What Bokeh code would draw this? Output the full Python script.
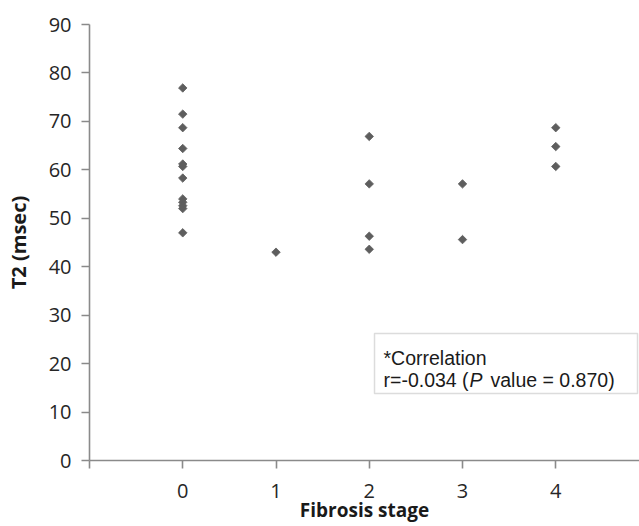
from bokeh.plotting import figure
from bokeh.models import FixedTicker, Label, BoxAnnotation, ColumnDataSource
from bokeh.embed import file_html
from bokeh.resources import INLINE
import math

# ---- data ----
stage_0 = [76.9, 71.5, 68.7, 64.4, 61.2, 60.7, 58.3, 54.0, 53.3, 52.6, 52.0, 47.0]
stage_1 = [43.0]
stage_2 = [66.9, 57.1, 46.3, 43.6]
stage_3 = [57.1, 45.6]
stage_4 = [68.7, 64.8, 60.7]
stages = [0, 1, 2, 3, 4]
y_ticks = [0, 10, 20, 30, 40, 50, 60, 70, 80, 90]
x_ticks = [-1, 0, 1, 2, 3, 4]
x_title = "Fibrosis stage"
y_title = "T2 (msec)"

xs, ys = [], []
for s, vals in zip(stages, [stage_0, stage_1, stage_2, stage_3, stage_4]):
    for v in vals:
        xs.append(s)
        ys.append(v)
src = ColumnDataSource(dict(x=xs, y=ys))

W, H = 639, 526
BL, BT, BB = 89, 24, 66
p = figure(width=W, height=H, x_range=(-1, 4.898), y_range=(0, 90),
           output_backend="svg", toolbar_location=None,
           min_border_left=BL, min_border_top=BT, min_border_bottom=BB,
           min_border_right=0)
p.outline_line_color = None
p.grid.visible = False
p.background_fill_color = "white"
p.border_fill_color = "white"

p.scatter("x", "y", source=src, marker="square", size=6, angle=math.pi / 4,
          fill_color="#5e5e5e", line_color="#5e5e5e", line_width=0.8)

TICK_FONT = "Open Sans"
for ax in (p.xaxis[0], p.yaxis[0]):
    ax.axis_line_color = "#8a8a8a"
    ax.axis_line_width = 1.6
    ax.major_tick_line_color = "#8a8a8a"
    ax.major_tick_line_width = 1.6
    ax.major_tick_out = 8
    ax.major_tick_in = 0
    ax.minor_tick_out = 0
    ax.minor_tick_in = 0
    ax.major_label_text_font = TICK_FONT
    ax.major_label_text_font_size = "20px"
    ax.major_label_text_color = "#262626"
    ax.axis_label_text_font = TICK_FONT
    ax.axis_label_text_font_style = "bold"
    ax.axis_label_text_font_size = "20px"
    ax.axis_label_text_color = "#1a1a1a"

p.xaxis.axis_label_text_font_size = "19px"
p.yaxis.ticker = FixedTicker(ticks=y_ticks)
p.xaxis.ticker = FixedTicker(ticks=x_ticks)
p.xaxis.major_label_overrides = {-1: ""}
p.yaxis.axis_label = y_title
p.xaxis.axis_label = x_title
p.yaxis.major_label_standoff = 10
p.xaxis.major_label_standoff = 15
p.yaxis.axis_label_standoff = 14
p.xaxis.axis_label_standoff = -4


# layout helpers (pixel positions of the page converted to data units)
def px_x(px):
    return -1 + (px - 89) / 93.25


def px_y(py):
    return (460 - py) / (436 / 90)


p.add_layout(BoxAnnotation(left=px_x(374), right=px_x(637), top=px_y(333), bottom=px_y(393),
                           fill_color="white", fill_alpha=1.0,
                           line_color="#8a8a8a", line_width=1.5))

LF = "Liberation Sans"
common = dict(text_font=LF, text_font_size="19.5px", text_color="#1a1a1a",
              text_baseline="alphabetic", text_align="left")
p.add_layout(Label(x=px_x(383), y=px_y(357), text="*Correlation", **common))
p.add_layout(Label(x=px_x(383), y=px_y(379.5), text="r=-0.034 (", **common))
p.add_layout(Label(x=px_x(469), y=px_y(379.5), text="P", text_font_style="italic", **common))
p.add_layout(Label(x=px_x(490), y=px_y(379.5), text="value = 0.870)", **common))

open("out.html", "w").write(file_html(p, INLINE))
